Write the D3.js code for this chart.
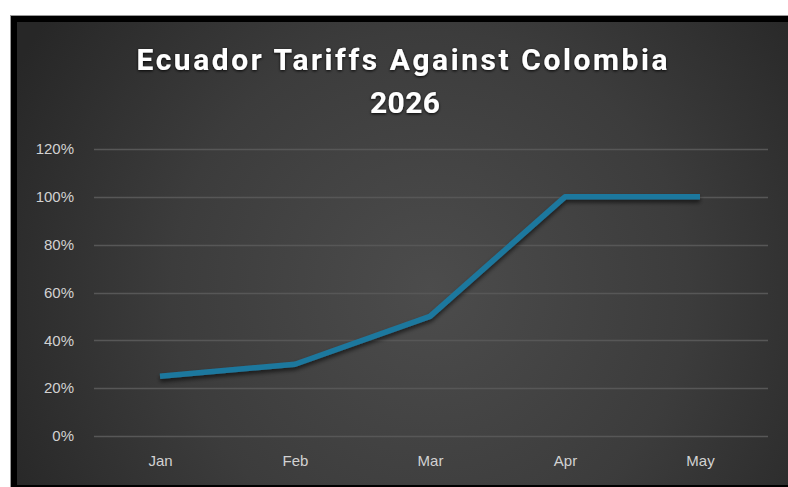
<!DOCTYPE html>
<html>
<head>
<meta charset="utf-8">
<script src="https://cdn.jsdelivr.net/npm/d3@7"></script>
<style>
  html, body { margin: 0; padding: 0; background: #ffffff; }
  svg { display: block; }
</style>
</head>
<body>
<div id="chart"></div>
<script>
// ---- data ----
const months = ["Jan", "Feb", "Mar", "Apr", "May"];
const tariffs = [0.25, 0.30, 0.50, 1.00, 1.00];
const yTicks = [0, 0.2, 0.4, 0.6, 0.8, 1.0, 1.2];
const titleLines = ["Ecuador Tariffs Against Colombia", "2026"];

const W = 788, H = 487;
const svg = d3.select("#chart").append("svg").attr("width", W).attr("height", H);
const defs = svg.append("defs");

const grad = defs.append("radialGradient").attr("id", "bg")
  .attr("gradientUnits", "userSpaceOnUse")
  .attr("cx", 430).attr("cy", 290).attr("r", 470);
grad.append("stop").attr("offset", "0%").attr("stop-color", "#4c4c4c");
grad.append("stop").attr("offset", "55%").attr("stop-color", "#3c3c3c");
grad.append("stop").attr("offset", "100%").attr("stop-color", "#272727");

const sh = defs.append("filter").attr("id", "lineShadow")
  .attr("x", "-10%").attr("y", "-20%").attr("width", "120%").attr("height", "140%");
sh.append("feDropShadow").attr("dx", 0).attr("dy", 3).attr("stdDeviation", 2)
  .attr("flood-color", "#000").attr("flood-opacity", 0.6);

const ts = defs.append("filter").attr("id", "titleShadow")
  .attr("x", "-10%").attr("y", "-40%").attr("width", "120%").attr("height", "180%");
ts.append("feDropShadow").attr("dx", 0).attr("dy", 1).attr("stdDeviation", 1.5)
  .attr("flood-color", "#000").attr("flood-opacity", 0.9);

// frame
svg.append("rect").attr("x", 10).attr("y", 15).attr("width", W - 10).attr("height", H - 15)
  .attr("fill", "#000");
svg.append("line").attr("x1", 10.5).attr("x2", 10.5).attr("y1", 15).attr("y2", H)
  .attr("stroke", "#9a9a9a").attr("stroke-width", 1);
svg.append("line").attr("x1", 10).attr("x2", W).attr("y1", 15.5).attr("y2", 15.5)
  .attr("stroke", "#9a9a9a").attr("stroke-width", 1);
svg.append("rect").attr("x", 17).attr("y", 22).attr("width", W - 17).attr("height", H - 22 - 2)
  .attr("fill", "url(#bg)");

// scales
const x = d3.scalePoint().domain(months).range([160, 700]);
const y = d3.scaleLinear().domain([0, 1.2]).range([436, 149]);

// gridlines
svg.append("g").selectAll("line").data(yTicks).join("line")
  .attr("x1", 94).attr("x2", 768)
  .attr("y1", d => Math.round(y(d)) + 0.5).attr("y2", d => Math.round(y(d)) + 0.5)
  .attr("stroke", "#575757").attr("stroke-width", 1.3);

// y axis labels
const yAxis = d3.axisLeft(y).tickValues(yTicks).tickFormat(d3.format(".0%")).tickSize(0).tickPadding(0);
const gy = svg.append("g").attr("transform", "translate(74,0)").call(yAxis);
gy.select(".domain").remove();
gy.selectAll("text").attr("fill", "#d2d2d2")
  .style("font-family", "'Liberation Sans', Arial, sans-serif").style("font-size", "15px");

// x axis labels
const xAxis = d3.axisBottom(x).tickSize(0).tickPadding(0);
const gx = svg.append("g").attr("transform", "translate(0,455)").call(xAxis);
gx.select(".domain").remove();
gx.selectAll("text").attr("fill", "#d2d2d2")
  .style("font-family", "'Liberation Sans', Arial, sans-serif").style("font-size", "15px");

// line
const data = months.map((m, i) => ({ m, v: tariffs[i] }));
const line = d3.line().x(d => x(d.m)).y(d => y(d.v));
svg.append("path").datum(data)
  .attr("d", line)
  .attr("fill", "none")
  .attr("stroke", "#1f789e")
  .attr("stroke-width", 5.5)
  .attr("stroke-linejoin", "round")
  .attr("filter", "url(#lineShadow)");

// title
const title = svg.append("g").attr("filter", "url(#titleShadow)");
title.append("text").attr("x", 402).attr("y", 70).attr("text-anchor", "middle")
  .attr("textLength", 531).attr("lengthAdjust", "spacing")
  .attr("fill", "#ffffff")
  .style("font-family", "Roboto, 'Noto Sans', sans-serif")
  .style("font-weight", "bold").style("font-size", "30px")
  .text(titleLines[0]);
title.append("text").attr("x", 405).attr("y", 113).attr("text-anchor", "middle")
  .attr("textLength", 70).attr("lengthAdjust", "spacing")
  .attr("fill", "#ffffff")
  .style("font-family", "Roboto, 'Noto Sans', sans-serif")
  .style("font-weight", "bold").style("font-size", "30px")
  .text(titleLines[1]);
</script>
</body>
</html>
